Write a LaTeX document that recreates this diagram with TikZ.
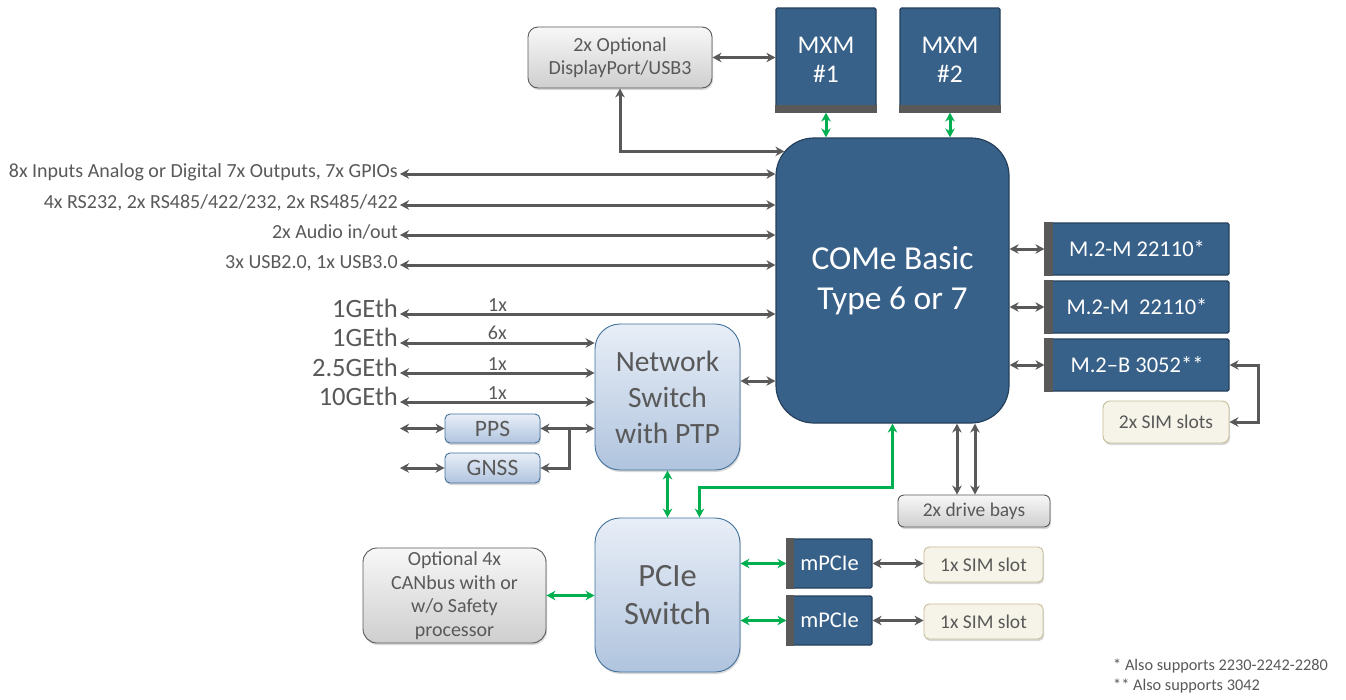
\documentclass[tikz,border=0pt]{standalone}
\usepackage{fontspec}
\setmainfont{Carlito}
\usetikzlibrary{arrows.meta,shadows}

\definecolor{comeblue}{RGB}{56,97,137}
\definecolor{comeedge}{RGB}{37,64,92}
\definecolor{bargray}{RGB}{89,89,89}
\definecolor{txtgray}{RGB}{89,89,89}
\definecolor{pcgreen}{RGB}{0,176,80}
\definecolor{ltblue}{RGB}{232,238,247}
\definecolor{mdblue}{RGB}{176,196,222}
\definecolor{blueedge}{RGB}{65,113,156}
\definecolor{cream}{RGB}{246,244,232}
\definecolor{creamedge}{RGB}{196,189,151}
\newcommand{\fs}[2]{\fontsize{#1}{#2}\selectfont}

\begin{document}
\begin{tikzpicture}[x=1pt,y=-1pt,
    darkbox/.style={draw=comeedge,line width=1.2pt,fill=comeblue,text=white,inner sep=0pt,align=center,rounded corners=1.5pt},
    lightbox/.style={draw=blueedge,line width=.9pt,top color=ltblue,bottom color=mdblue,text=txtgray,inner sep=0pt,align=center,
      drop shadow={shadow xshift=1pt,shadow yshift=-2pt,opacity=.3}},
    graybox/.style={draw=bargray,line width=.9pt,top color=gray!6,bottom color=gray!38,text=txtgray,inner sep=0pt,align=center,
      drop shadow={shadow xshift=1pt,shadow yshift=-2pt,opacity=.3}},
    simbox/.style={draw=creamedge,line width=.9pt,fill=cream,text=txtgray,inner sep=0pt,rounded corners=5pt,
      drop shadow={shadow xshift=1pt,shadow yshift=-2pt,opacity=.3}},
    lbl/.style={anchor=east,inner sep=2pt,text=txtgray,text height=.7em,text depth=0pt},
    cnt/.style={above,inner sep=1.5pt,text=txtgray,font=\fs{20}{22}},
    dbl/.style={draw=bargray,line width=3pt,{Stealth[length=9pt,width=9.5pt]}-{Stealth[length=9pt,width=9.5pt]}},
    sgl/.style={draw=bargray,line width=3pt,-{Stealth[length=9pt,width=9.5pt]}},
    grn/.style={dbl,draw=pcgreen}]
  \fill[white] (0,0) rectangle (1346,699);

  % main module and its neighbours
  \node[darkbox,rounded corners=38pt,minimum width=233pt,minimum height=285pt,font=\fs{33.5}{40}] (come) at (892.5,280.5) {COMe Basic\\Type 6 or 7};
  \node[darkbox,minimum width=100pt,minimum height=104pt,font=\fs{25.5}{29}] (mxm1) at (826,60) {MXM\\\#1};
  \node[darkbox,minimum width=100pt,minimum height=104pt,font=\fs{25.5}{29}] (mxm2) at (950,60) {MXM\\\#2};
  \node[graybox,rounded corners=10pt,minimum width=184pt,minimum height=61pt,font=\fs{20}{23}] (dp) at (620,57.5) {2x Optional\\DisplayPort/USB3};
  \fill[bargray] (mxm1.south west) rectangle ([yshift=8pt]mxm1.south east);
  \fill[bargray] (mxm2.south west) rectangle ([yshift=8pt]mxm2.south east);

  % left side interfaces
  \node[lbl,font=\fs{20}{22}] (gpio) at (400,174) {8x Inputs Analog or Digital 7x Outputs, 7x GPIOs};
  \node[lbl,font=\fs{20}{22}] (ser) at (400,205) {4x RS232, 2x RS485/422/232, 2x RS485/422};
  \node[lbl,font=\fs{20}{22}] (aud) at (400,235) {2x Audio in/out};
  \node[lbl,font=\fs{20}{22}] (usb) at (400,265) {3x USB2.0, 1x USB3.0};
  \node[lbl,font=\fs{26.5}{28}] (ga) at (400,314) {1GEth};
  \node[lbl,font=\fs{26.5}{28}] (gb) at (400,343) {1GEth};
  \node[lbl,font=\fs{26.5}{28}] (gc) at (400,373) {2.5GEth};
  \node[lbl,font=\fs{26.5}{28}] (gd) at (400,402) {10GEth};

  \node[lightbox,rounded corners=25pt,minimum width=145pt,minimum height=146pt,font=\fs{29.5}{36}] (ns) at (667.5,397) {Network\\Switch\\with PTP};
  \node[lightbox,rounded corners=5pt,minimum width=95pt,minimum height=29pt,font=\fs{23.5}{26}] (pps) at (492.5,428.5) {PPS};
  \node[lightbox,rounded corners=5pt,minimum width=95pt,minimum height=30pt,font=\fs{23.5}{26}] (gnss) at (492.5,468) {GNSS};

  % PCIe part
  \node[lightbox,rounded corners=25pt,minimum width=145pt,minimum height=154pt,font=\fs{32.5}{38}] (pcie) at (667.5,595) {PCIe\\Switch};
  \node[graybox,rounded corners=14pt,minimum width=183pt,minimum height=95pt,font=\fs{20}{23.5}] (can) at (454.5,595.5) {Optional 4x\\CANbus with or\\w/o Safety\\processor};
  \node[darkbox,minimum width=85pt,minimum height=49pt,font=\fs{22.5}{26}] (mpa) at (829.5,563.5) {mPCIe};
  \node[darkbox,minimum width=85pt,minimum height=49pt,font=\fs{22.5}{26}] (mpb) at (829.5,620.5) {mPCIe};
  \node[simbox,minimum width=119pt,minimum height=35pt,font=\fs{19.5}{22}] (sima) at (983.5,564.5) {1x SIM slot};
  \node[simbox,minimum width=119pt,minimum height=35pt,font=\fs{19.5}{22}] (simb) at (983.5,621.5) {1x SIM slot};
  \node[graybox,rounded corners=6pt,minimum width=152pt,minimum height=32pt,font=\fs{19.5}{22}] (drv) at (974,511) {2x drive bays};

  % M.2 slots
  \node[darkbox,minimum width=184pt,minimum height=52pt,font=\fs{22.5}{26}] (mma) at (1137,249) {M.2-M 22110*};
  \node[darkbox,minimum width=184pt,minimum height=52pt,font=\fs{22.5}{26}] (mmb) at (1137,307) {M.2-M~ 22110*};
  \node[darkbox,minimum width=184pt,minimum height=52pt,font=\fs{22.5}{26}] (mmc) at (1137,365) {M.2--B 3052**};
  \node[simbox,rounded corners=7pt,minimum width=126pt,minimum height=42pt,font=\fs{19.5}{22}] (sims) at (1166,422) {2x SIM slots};
  \foreach \b in {mma,mmb,mmc} \fill[bargray] (\b.south west) rectangle ([xshift=9pt]\b.north west);
  \foreach \b in {mpa,mpb} \fill[bargray] (\b.south west) rectangle ([xshift=8pt]\b.north west);

  \node[anchor=north west,align=left,inner sep=0pt,text=txtgray,font=\fs{16.3}{20}] (note) at (1113,659) {* Also supports 2230-2242-2280\\** Also supports 3042};

  % connectors
  \draw[grn] (mxm1.south) -- (mxm1.south |- come.north);
  \draw[grn] (mxm2.south) -- (mxm2.south |- come.north);
  \draw[dbl] (dp.east) -- (dp.east -| mxm1.west);
  \draw[dbl] (dp.south) |- ([xshift=9pt,yshift=-14pt]come.north west);
  \foreach \l in {gpio,ser,aud,usb} \draw[dbl] (\l.east) -- (\l.east -| come.west);
  \draw[dbl] (ga.east) -- (ga.east -| come.west) node[cnt,pos=.26] {1x};
  \draw[dbl] (gb.east) -- (gb.east -| ns.west) node[cnt,midway] {6x};
  \draw[dbl] (gc.east) -- (gc.east -| ns.west) node[cnt,midway] {1x};
  \draw[dbl] (gd.east) -- (gd.east -| ns.west) node[cnt,midway] {1x};
  \coordinate (nsout) at ([yshift=16pt]ns.east);
  \draw[dbl] (nsout) -- (nsout -| come.west);
  \draw[dbl] (pps.west -| gd.east) -- (pps.west);
  \draw[dbl] (gnss.west -| gd.east) -- (gnss.west);
  \draw[dbl] (pps.east) -- (pps.east -| ns.west);
  \coordinate (tap) at (569,428.5);
  \draw[sgl] (tap) |- (gnss.east);

  \draw[grn] (ns.south) -- (pcie.north);
  \draw[grn] (come.south) -- ++(0,64) -| ([xshift=32pt]pcie.north);
  \coordinate (dv1) at ([xshift=-17pt]drv.north);
  \coordinate (dv2) at ([xshift=1pt]drv.north);
  \draw[dbl] (dv1) -- (dv1 |- come.south);
  \draw[dbl] (dv2) -- (dv2 |- come.south);
  \draw[grn] (can.east) -- (can.east -| pcie.west);
  \draw[grn] (mpa.west -| pcie.east) -- (mpa.west);
  \draw[grn] (mpb.west -| pcie.east) -- (mpb.west);
  \draw[dbl] (mpa.east) -- (mpa.east -| sima.west);
  \draw[dbl] (mpb.east) -- (mpb.east -| simb.west);

  \foreach \b in {mma,mmb,mmc} \draw[dbl] (\b.west -| come.east) -- (\b.west);
  \draw[dbl] (mmc.east) -- ++(29,0) |- (sims.east);
\end{tikzpicture}
\end{document}
